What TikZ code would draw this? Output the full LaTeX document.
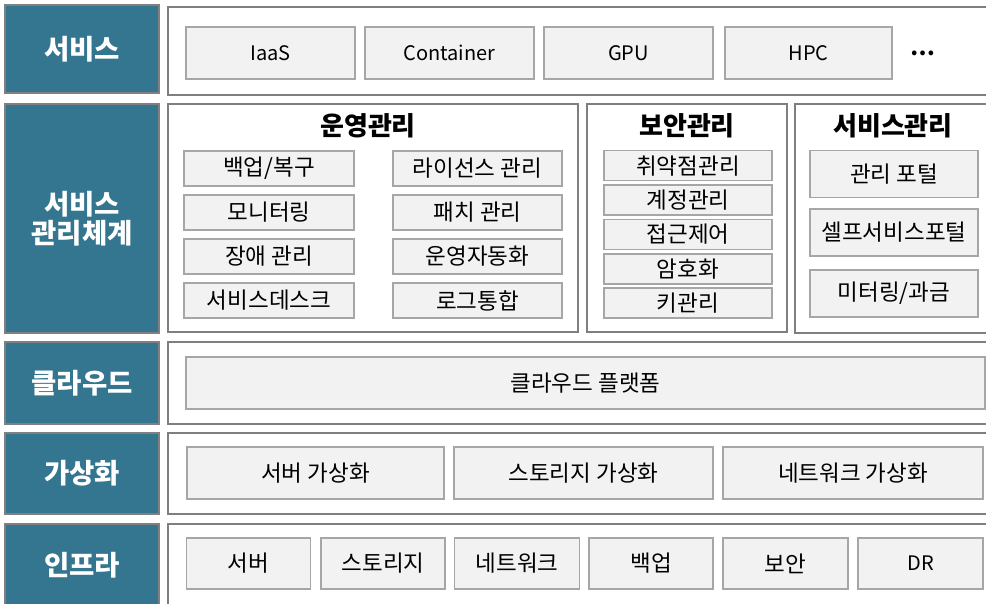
\documentclass[tikz,border=0pt]{standalone}
\usepackage{fontspec}
\setmainfont{Noto Sans CJK KR}
\definecolor{layerfill}{RGB}{52,117,143}
\definecolor{layerline}{RGB}{128,128,128}
\definecolor{panelline}{RGB}{127,127,127}
\definecolor{itemfill}{RGB}{242,242,242}
\definecolor{itemline}{RGB}{166,166,166}

\begin{document}
\begin{tikzpicture}[x=1pt, y=-1pt,
	layerbox/.style={draw=layerline, line width=2pt, fill=layerfill, text=white, inner sep=0pt,
		align=center, minimum width=154pt, font=\fontsize{27.5}{29}\selectfont\bfseries},
	panelbox/.style={draw=panelline, line width=1.8pt, fill=white, inner sep=0pt},
	itembox/.style={draw=itemline, line width=1.6pt, fill=itemfill, inner sep=0pt,
		text=black, font=\fontsize{22.5}{26}\selectfont},
	latin/.style={font=\fontsize{20}{24}\selectfont},
	headtext/.style={inner sep=0pt, text=black, font=\fontsize{26}{30}\selectfont\bfseries}]
	\useasboundingbox (0,0) rectangle (986,603);
	\clip (0,0) rectangle (986,603);

	% layer names
	\node[layerbox, minimum height=88pt] (lSvc) at (82,49) {서비스};
	\node[layerbox, minimum height=229pt] (lMgmt) at (82,218.5) {서비스\\관리체계};
	\node[layerbox, minimum height=82pt] (lCloud) at (82,383) {클라우드};
	\node[layerbox, minimum height=81pt] (lVirt) at (82,473.5) {가상화};
	\node[layerbox, minimum height=82pt] (lInfra) at (82,565) {인프라};

	% panels
	\node[panelbox, minimum width=827pt, minimum height=88pt] (pSvc) at (581.5,51) {};
	\node[panelbox, minimum width=410pt, minimum height=228pt] (pOps) at (373,218) {};
	\node[panelbox, minimum width=200pt, minimum height=228pt] (pSec) at (687,218) {};
	\node[panelbox, minimum width=200pt, minimum height=229pt] (pSm) at (895,218.5) {};
	\node[panelbox, minimum width=827pt, minimum height=82pt] (pCloud) at (581.5,383) {};
	\node[panelbox, minimum width=827pt, minimum height=81pt] (pVirt) at (581.5,473.5) {};
	\node[panelbox, minimum width=827pt, minimum height=90pt] (pInfra) at (581.5,569) {};

	% service
	\node[itembox, latin, minimum width=169pt, minimum height=52pt] (iaas) at (270.5,53) {IaaS};
	\node[itembox, latin, minimum width=169pt, minimum height=52pt] (container) at (449.5,53) {Container};
	\node[itembox, latin, minimum width=169pt, minimum height=52pt] (gpu) at (628.5,53) {GPU};
	\node[itembox, latin, minimum width=167pt, minimum height=52pt] (hpc) at (808.5,53) {HPC};
	\node[inner sep=0pt, font=\fontsize{22}{24}\selectfont\bfseries] (more) at (923,53) {⋯};

	% service management
	\node[headtext] (hOps) at (368,126) {운영관리};
	\node[itembox, minimum width=170pt, minimum height=35pt] (backup) at (269,168.5) {백업/복구};
	\node[itembox, minimum width=170pt, minimum height=35pt] (monitor) at (269,212.5) {모니터링};
	\node[itembox, minimum width=170pt, minimum height=35pt] (fault) at (269,256.5) {장애 관리};
	\node[itembox, minimum width=170pt, minimum height=35pt] (desk) at (269,300.5) {서비스데스크};
	\node[itembox, minimum width=169pt, minimum height=35pt] (license) at (477.5,168.5) {라이선스 관리};
	\node[itembox, minimum width=169pt, minimum height=35pt] (patch) at (477.5,212.5) {패치 관리};
	\node[itembox, minimum width=169pt, minimum height=35pt] (autoops) at (477.5,256.5) {운영자동화};
	\node[itembox, minimum width=169pt, minimum height=35pt] (logs) at (477.5,300.5) {로그통합};

	\node[headtext] (hSec) at (687,126) {보안관리};
	\node[itembox, minimum width=168pt, minimum height=30pt] (vuln) at (688,165.6) {취약점관리};
	\node[itembox, minimum width=168pt, minimum height=30pt] (account) at (688,200) {계정관리};
	\node[itembox, minimum width=168pt, minimum height=30pt] (access) at (688,234.4) {접근제어};
	\node[itembox, minimum width=168pt, minimum height=30pt] (crypto) at (688,268.8) {암호화};
	\node[itembox, minimum width=168pt, minimum height=30pt] (keys) at (688,303.2) {키관리};

	\node[headtext] (hSm) at (893,126) {서비스관리};
	\node[itembox, minimum width=168pt, minimum height=47pt] (portal) at (894,174) {관리 포털};
	\node[itembox, minimum width=168pt, minimum height=47pt] (selfsvc) at (894,232.5) {셀프서비스포털};
	\node[itembox, minimum width=168pt, minimum height=47pt] (billing) at (894,293.5) {미터링/과금};

	% cloud
	\node[itembox, minimum width=799pt, minimum height=52pt] (platform) at (585.5,383) {클라우드 플랫폼};

	% virtualization
	\node[itembox, minimum width=257pt, minimum height=52pt] (vServer) at (315.5,473) {서버 가상화};
	\node[itembox, minimum width=259pt, minimum height=52pt] (vStorage) at (583.5,473) {스토리지 가상화};
	\node[itembox, minimum width=260pt, minimum height=52pt] (vNet) at (853,473) {네트워크 가상화};

	% infrastructure
	\node[itembox, minimum width=124pt, minimum height=51pt] (server) at (248.5,563.5) {서버};
	\node[itembox, minimum width=124pt, minimum height=51pt] (storage) at (383,563.5) {스토리지};
	\node[itembox, minimum width=125pt, minimum height=51pt] (network) at (517,563.5) {네트워크};
	\node[itembox, minimum width=124pt, minimum height=51pt] (bak) at (651,563.5) {백업};
	\node[itembox, minimum width=125pt, minimum height=51pt] (security) at (785.5,563.5) {보안};
	\node[itembox, latin, minimum width=125pt, minimum height=51pt] (dr) at (920.5,563.5) {DR};
\end{tikzpicture}
\end{document}
